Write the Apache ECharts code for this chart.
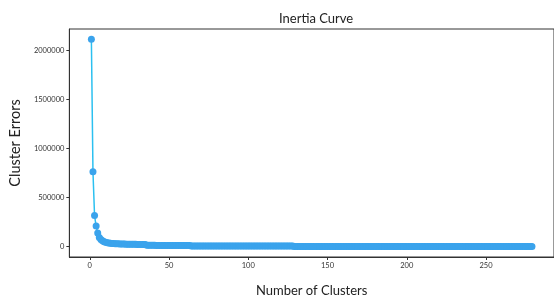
<!DOCTYPE html>
<html>
<head>
<meta charset="utf-8">
<script src="https://cdn.jsdelivr.net/npm/echarts@6/dist/echarts.min.js"></script>
<style>
  html, body { margin: 0; padding: 0; background: #fff; }
  #main { width: 554px; height: 302px; }
</style>
</head>
<body>
<div id="main"></div>
<script>
// first cluster count on the x axis, errors follow one per k
var firstK = 1;
var clusterErrors = [
  2113000, 764000, 317000, 210000, 139000, 92000, 72000, 59000, 50000, 44000,
  40000, 37000, 35000, 33200, 31600, 30300, 29200, 28300, 27500, 26800,
  26200, 25700, 25200, 24800, 24400, 24000, 23700, 23400, 23100, 22800,
  22500, 22300, 22000, 21800, 21600,
  14000, 13700, 13500, 13300, 13100,
  12900, 12800, 12600, 12500, 12300, 12200, 12100, 11900, 11800, 11700,
  11600, 11500, 11400, 11300, 11200, 11100, 11000, 10900, 10800, 10700, 10600, 10500, 10400,
  7600, 7550, 7500, 7460, 7420, 7380, 7340, 7300, 7260, 7220,
  7180, 7140, 7100, 7070, 7030, 7000, 6960, 6930, 6890, 6860,
  6830, 6790, 6760, 6730, 6700, 6670, 6640, 6610, 6580, 6550,
  6520, 6490, 6460, 6440, 6410, 6380, 6350, 6330, 6300, 6270,
  6250, 6220, 6190, 6170, 6140, 6120, 6090, 6070, 6040, 6020,
  5990, 5970, 5950, 5920, 5900, 5880, 5850, 5830, 5810, 5790,
  5770, 5740, 5720, 5700, 5680,
  1900, 1890, 1880, 1870, 1860, 1850, 1840, 1830, 1820, 1810,
  1800, 1790, 1780, 1770, 1760, 1750, 1740, 1730, 1720, 1710,
  1700, 1690, 1680, 1670, 1660, 1650, 1640, 1630, 1620, 1610,
  1600, 1590, 1580, 1570, 1560, 1550, 1540, 1530, 1520, 1510,
  1500, 1490, 1470, 1460, 1450, 1440, 1420, 1410, 1400, 1390,
  1370, 1360, 1350, 1340, 1320, 1310, 1300, 1290, 1270, 1260,
  1250, 1240, 1220, 1210, 1200, 1190, 1170, 1160, 1150, 1140,
  1120, 1110, 1100, 1090, 1070, 1060, 1050, 1040, 1020, 1010,
  1000, 990, 970, 960, 950, 940, 920, 910, 900, 890,
  870, 860, 850, 840, 820, 810, 800, 790, 770, 760,
  750, 740, 720, 710, 700, 690, 670, 660, 650, 640,
  620, 610, 600, 590, 570, 560, 550, 540, 520, 510,
  500, 490, 470, 460, 450, 440, 420, 410, 400, 390,
  370, 360, 350, 340, 320, 310, 300, 290, 270, 260,
  250, 240, 220, 210, 200, 190, 170, 160, 150, 140, 120
];
var xTicks = [0, 50, 100, 150, 200, 250];
var yTicks = [0, 500000, 1000000, 1500000, 2000000];

var points = clusterErrors.map(function (v, i) {
  return [firstK + i, v];
});

var myChart = echarts.init(document.getElementById("main"));
var font = "Lato, 'Open Sans', sans-serif";
var plain = function (v) { return String(v); };

var option = {
  animation: false,
  title: {
    text: "Inertia Curve",
    left: 274,
    top: 7,
    textStyle: { fontFamily: font, fontSize: 13, fontWeight: "normal", color: "#222" },
  },
  // the frame runs a little past the right edge of the picture
  grid: {
    left: 65,
    right: -2,
    top: 29,
    bottom: 34,
    show: true,
    borderColor: "#333",
    borderWidth: 1,
  },
  xAxis: {
    type: "value",
    min: -12.9,
    max: 292.9,
    name: "Number of Clusters",
    nameLocation: "middle",
    nameGap: 27,
    nameTextStyle: { fontFamily: font, fontSize: 13, color: "#222" },
    splitLine: { show: false },
    axisLine: { show: true, onZero: false, lineStyle: { color: "#333" } },
    axisTick: { show: true, length: 3, customValues: xTicks, lineStyle: { color: "#333" } },
    axisLabel: { customValues: xTicks, formatter: plain, fontFamily: font, fontSize: 7.5, color: "#333", margin: 5 },
  },
  yAxis: {
    type: "value",
    min: -105650,
    max: 2218650,
    name: "Cluster Errors",
    nameLocation: "middle",
    nameGap: 45,
    nameTextStyle: { fontFamily: font, fontSize: 14.5, color: "#222" },
    splitLine: { show: false },
    axisLine: { show: true, onZero: false, lineStyle: { color: "#333" } },
    axisTick: { show: true, length: 3, customValues: yTicks, lineStyle: { color: "#333" } },
    axisLabel: { customValues: yTicks, formatter: plain, fontFamily: font, fontSize: 7.5, color: "#333", margin: 5 },
  },
  series: [
    {
      type: "line",
      data: points,
      showAllSymbol: true,
      symbol: "circle",
      symbolSize: 7,
      lineStyle: { color: "#2bc0f0", width: 1.5 },
      itemStyle: { color: "#3aa3ec" },
    },
  ],
};

myChart.setOption(option);
</script>
</body>
</html>
